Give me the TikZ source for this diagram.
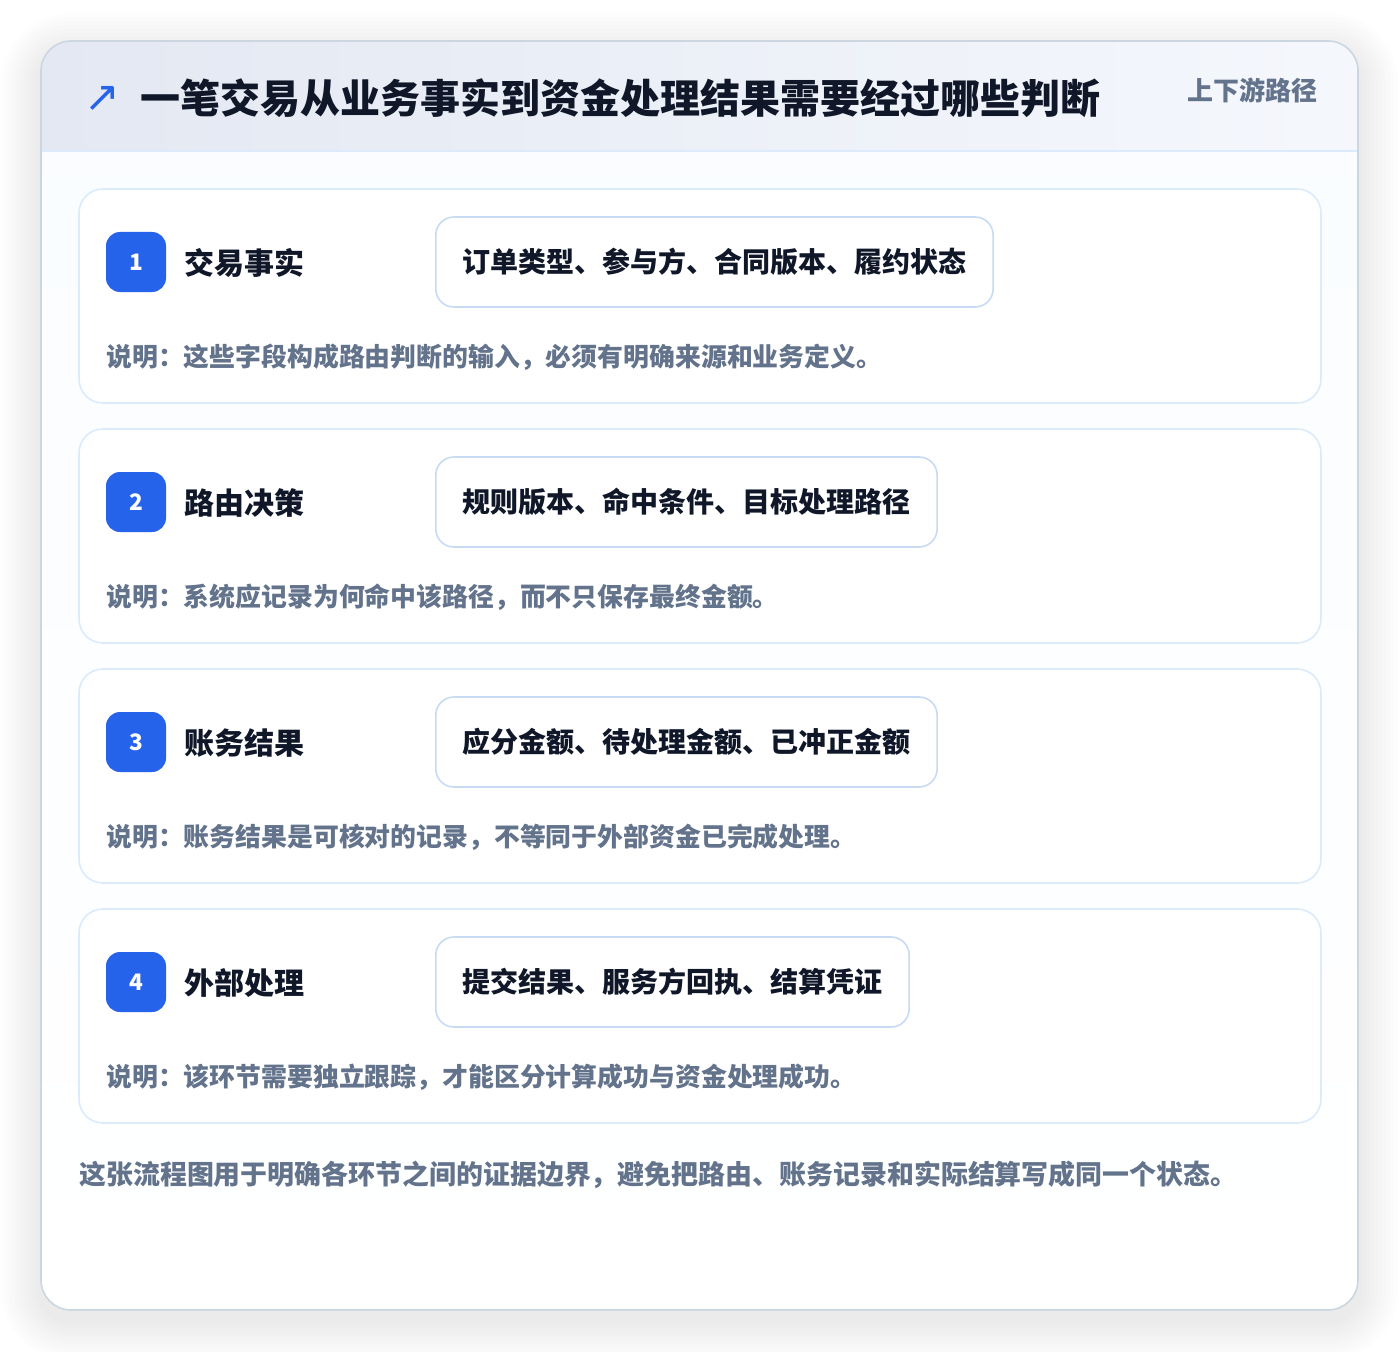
\documentclass[tikz,border=0pt]{standalone}
\usepackage{fontspec}
\setmainfont{Noto Sans CJK SC}
\newfontfamily\symfont{DejaVu Sans}
\usepackage{tikz}
\usepackage{xcolor}
\definecolor{royalblue}{rgb}{0.15,0.39,0.92}
\definecolor{inkdark}{rgb}{0.06,0.09,0.16}
\definecolor{slategrey}{rgb}{0.39,0.45,0.55}
\definecolor{paleblue}{rgb}{0.86,0.92,0.99}
\definecolor{lineblue}{rgb}{0.78,0.86,0.96}
\definecolor{frame}{rgb}{0.80,0.84,0.88}
\definecolor{headleft}{rgb}{0.89,0.91,0.95}
\definecolor{headright}{rgb}{0.96,0.97,0.99}
\definecolor{bodybg}{rgb}{0.98,0.99,1.0}
\definecolor{shade}{rgb}{0.35,0.40,0.50}
\tikzstyle{card}=[draw=paleblue,line width=1.2pt,fill=white,rounded corners=18pt,minimum width=931.5pt,minimum height=160.5pt,inner sep=0]
\tikzstyle{badge}=[fill=royalblue,rounded corners=10.5pt,minimum size=45pt,inner sep=0,text=white,font=\fontsize{17pt}{20pt}\selectfont\bfseries]
\tikzstyle{step title}=[anchor=west,inner sep=0,text=inkdark,font=\fontsize{22.5pt}{26pt}\selectfont\bfseries]
\tikzstyle{tag}=[anchor=west,draw=lineblue,line width=1.2pt,fill=white,rounded corners=13.5pt,minimum height=67.5pt,inner xsep=20pt,text=inkdark,font=\fontsize{21pt}{24pt}\selectfont\bfseries]
\tikzstyle{note}=[anchor=west,inner sep=0,text=slategrey,font=\fontsize{19.4pt}{22pt}\selectfont\bfseries]
\tikzstyle{glow}=[fill=shade,fill opacity=0.013]

\begin{document}
\begin{tikzpicture}[x=0.75pt,y=-0.75pt]
		\useasboundingbox (0,0) rectangle (1400,1352);
		\fill[white] (0,0) rectangle (1400,1352);
%soft shadow of the panel
		\foreach \s in {4,8,...,40}
			\fill[glow,rounded corners=22.5pt+0.75*\s pt] (41-\s,41-\s+12) rectangle (1358+\s,1310+\s+10);
%outer panel with header band
		\begin{scope}
		\clip[rounded corners=22.5pt] (41,41) rectangle (1358,1310);
		\fill[top color=bodybg,bottom color=white] (41,151) rectangle (1358,1310);
		\fill[left color=headleft,right color=headright] (41,41) rectangle (1358,151);
		\end{scope}
		\draw[paleblue,line width=1.2pt] (41,151) -- (1358,151);
		\draw[frame,line width=1.2pt,rounded corners=22.5pt] (41,41) rectangle (1358,1310);

		\node[text=royalblue,inner sep=0,font=\symfont\fontsize{32pt}{34pt}\selectfont](icon) at (102,99){↗};
		\node[anchor=west,inner sep=0,text=inkdark,font=\fontsize{30pt}{35pt}\selectfont\bfseries](title) at (140,98){一笔交易从业务事实到资金处理结果需要经过哪些判断};
		\node[anchor=east,inner sep=0,text=slategrey,font=\fontsize{19.5pt}{22pt}\selectfont\bfseries](path) at (1318,90){上下游路径};
%step one
		\node[card](c1) at (700,296){};
		\node[badge](b1) at (136,262){1};
		\node[step title](t1) at (184,263){交易事实};
		\node[tag](g1) at (435,262){订单类型、参与方、合同版本、履约状态};
		\node[note](n1) at (106,357){说明：这些字段构成路由判断的输入，必须有明确来源和业务定义。};
%step two
		\node[card](c2) at (700,536){};
		\node[badge](b2) at (136,502){2};
		\node[step title](t2) at (184,503){路由决策};
		\node[tag](g2) at (435,502){规则版本、命中条件、目标处理路径};
		\node[note](n2) at (106,597){说明：系统应记录为何命中该路径，而不只保存最终金额。};
%step three
		\node[card](c3) at (700,776){};
		\node[badge](b3) at (136,742){3};
		\node[step title](t3) at (184,743){账务结果};
		\node[tag](g3) at (435,742){应分金额、待处理金额、已冲正金额};
		\node[note](n3) at (106,837){说明：账务结果是可核对的记录，不等同于外部资金已完成处理。};
%step four
		\node[card](c4) at (700,1016){};
		\node[badge](b4) at (136,982){4};
		\node[step title](t4) at (184,983){外部处理};
		\node[tag](g4) at (435,982){提交结果、服务方回执、结算凭证};
		\node[note](n4) at (106,1077){说明：该环节需要独立跟踪，才能区分计算成功与资金处理成功。};
%closing remark
		\node[anchor=west,inner sep=0,text=slategrey,font=\fontsize{20.2pt}{23pt}\selectfont\bfseries](foot) at (79,1175){这张流程图用于明确各环节之间的证据边界，避免把路由、账务记录和实际结算写成同一个状态。};
	\end{tikzpicture}
\end{document}
